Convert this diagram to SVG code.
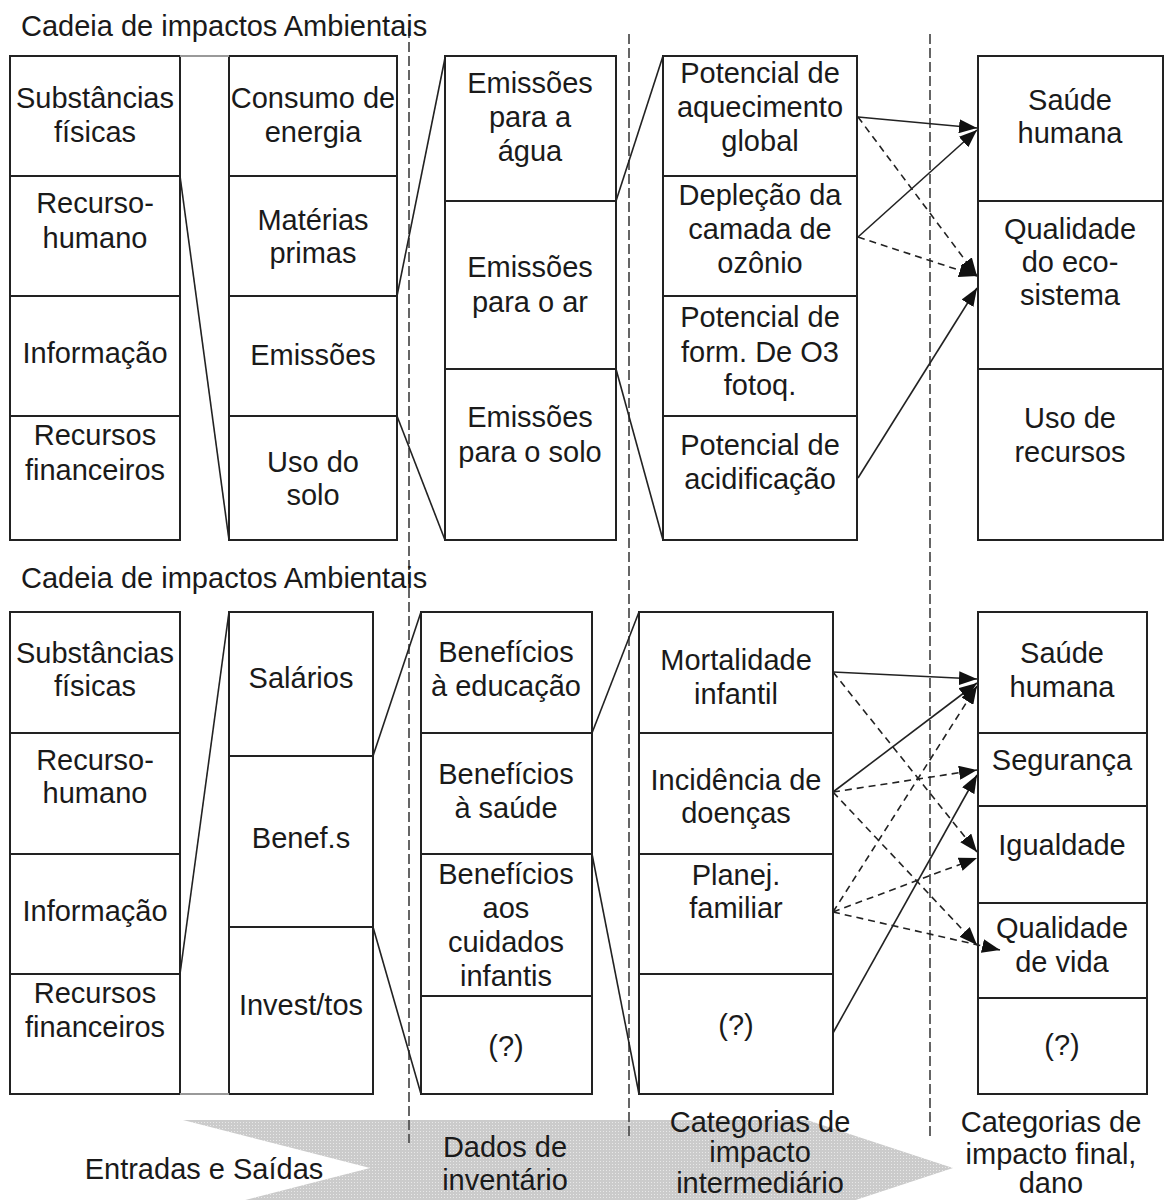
<svg xmlns="http://www.w3.org/2000/svg" width="1166" height="1200" viewBox="0 0 1166 1200">
<defs>
<style>
text{font-family:"Liberation Sans",Arial,sans-serif;font-size:29px;fill:#1a1a1a;text-anchor:middle}
text.l{text-anchor:start}
rect.c{fill:#fff;stroke:#222;stroke-width:2}
.ln{stroke:#222;stroke-width:1.6;fill:none}
.ar{stroke:#222;stroke-width:1.6;fill:none;marker-end:url(#ah)}
.da{stroke:#222;stroke-width:1.6;fill:none;stroke-dasharray:7 5;marker-end:url(#ah)}
.dv{stroke:#555;stroke-width:1.8;fill:none;stroke-dasharray:10 4}
.gr{stroke:#999;stroke-width:2;fill:none}
</style>
<marker id="ah" markerUnits="userSpaceOnUse" markerWidth="18" markerHeight="14" refX="18" refY="7" orient="auto">
<path d="M0,0 L18,7 L0,14 z" fill="#111"/>
</marker>
<pattern id="dots" width="3" height="3" patternUnits="userSpaceOnUse">
<rect width="3" height="3" fill="#cbcbcb"/>
<rect width="1" height="1" fill="#e8e8e8"/>
</pattern>
</defs>

<g id="band">
<polygon points="183,1120 807,1120 953,1168 807,1216 183,1216 370,1168" fill="url(#dots)"/>
</g>

<g id="dividers">
<line class="dv" x1="409" y1="28" x2="409" y2="1143"/>
<line class="dv" x1="629" y1="34" x2="629" y2="1138"/>
<line class="dv" x1="930" y1="34" x2="930" y2="1137"/>
</g>

<g id="titles">
<text class="l" x="21" y="36">Cadeia de impactos Ambientais</text>
<text class="l" x="21" y="588">Cadeia de impactos Ambientais</text>
</g>

<!-- TOP SECTION -->
<g id="t1a"><rect class="c" x="10" y="56" width="170" height="120"/><text x="95" y="108">Substâncias</text><text x="95" y="142">físicas</text></g>
<g id="t1b"><rect class="c" x="10" y="176" width="170" height="120"/><text x="95" y="213">Recurso-</text><text x="95" y="248">humano</text></g>
<g id="t1c"><rect class="c" x="10" y="296" width="170" height="120"/><text x="95" y="363">Informação</text></g>
<g id="t1d"><rect class="c" x="10" y="416" width="170" height="124"/><text x="95" y="445">Recursos</text><text x="95" y="480">financeiros</text></g>

<g id="t2a"><rect class="c" x="229" y="56" width="168" height="120"/><text x="313" y="108">Consumo de</text><text x="313" y="142">energia</text></g>
<g id="t2b"><rect class="c" x="229" y="176" width="168" height="120"/><text x="313" y="230">Matérias</text><text x="313" y="263">primas</text></g>
<g id="t2c"><rect class="c" x="229" y="296" width="168" height="120"/><text x="313" y="365">Emissões</text></g>
<g id="t2d"><rect class="c" x="229" y="416" width="168" height="124"/><text x="313" y="472">Uso do</text><text x="313" y="505">solo</text></g>

<g id="t3a"><rect class="c" x="445" y="56" width="171" height="145"/><text x="530" y="93">Emissões</text><text x="530" y="127">para a</text><text x="530" y="161">água</text></g>
<g id="t3b"><rect class="c" x="445" y="201" width="171" height="168"/><text x="530" y="277">Emissões</text><text x="530" y="312">para o ar</text></g>
<g id="t3c"><rect class="c" x="445" y="369" width="171" height="171"/><text x="530" y="427">Emissões</text><text x="530" y="462">para o solo</text></g>

<g id="t4a"><rect class="c" x="663" y="56" width="194" height="120"/><text x="760" y="83">Potencial de</text><text x="760" y="117">aquecimento</text><text x="760" y="151">global</text></g>
<g id="t4b"><rect class="c" x="663" y="176" width="194" height="120"/><text x="760" y="205">Depleção da</text><text x="760" y="239">camada de</text><text x="760" y="273">ozônio</text></g>
<g id="t4c"><rect class="c" x="663" y="296" width="194" height="120"/><text x="760" y="327">Potencial de</text><text x="760" y="362">form. De O3</text><text x="760" y="395">fotoq.</text></g>
<g id="t4d"><rect class="c" x="663" y="416" width="194" height="124"/><text x="760" y="455">Potencial de</text><text x="760" y="489">acidificação</text></g>

<g id="t5a"><rect class="c" x="978" y="56" width="185" height="145"/><text x="1070" y="110">Saúde</text><text x="1070" y="143">humana</text></g>
<g id="t5b"><rect class="c" x="978" y="201" width="185" height="168"/><text x="1070" y="239">Qualidade</text><text x="1070" y="272">do eco-</text><text x="1070" y="305">sistema</text></g>
<g id="t5c"><rect class="c" x="978" y="369" width="185" height="171"/><text x="1070" y="428">Uso de</text><text x="1070" y="462">recursos</text></g>

<!-- BOTTOM SECTION -->
<g id="b1a"><rect class="c" x="10" y="612" width="170" height="121"/><text x="95" y="663">Substâncias</text><text x="95" y="696">físicas</text></g>
<g id="b1b"><rect class="c" x="10" y="733" width="170" height="121"/><text x="95" y="770">Recurso-</text><text x="95" y="803">humano</text></g>
<g id="b1c"><rect class="c" x="10" y="854" width="170" height="120"/><text x="95" y="921">Informação</text></g>
<g id="b1d"><rect class="c" x="10" y="974" width="170" height="120"/><text x="95" y="1003">Recursos</text><text x="95" y="1037">financeiros</text></g>

<g id="b2a"><rect class="c" x="229" y="612" width="144" height="144"/><text x="301" y="688">Salários</text></g>
<g id="b2b"><rect class="c" x="229" y="756" width="144" height="171"/><text x="301" y="848">Benef.s</text></g>
<g id="b2c"><rect class="c" x="229" y="927" width="144" height="167"/><text x="301" y="1015">Invest/tos</text></g>

<g id="b3a"><rect class="c" x="421" y="612" width="171" height="121"/><text x="506" y="662">Benefícios</text><text x="506" y="696">à educação</text></g>
<g id="b3b"><rect class="c" x="421" y="733" width="171" height="121"/><text x="506" y="784">Benefícios</text><text x="506" y="818">à saúde</text></g>
<g id="b3c"><rect class="c" x="421" y="854" width="171" height="142"/><text x="506" y="884">Benefícios</text><text x="506" y="918">aos</text><text x="506" y="952">cuidados</text><text x="506" y="986">infantis</text></g>
<g id="b3d"><rect class="c" x="421" y="996" width="171" height="98"/><text x="506" y="1056">(?)</text></g>

<g id="b4a"><rect class="c" x="639" y="612" width="194" height="121"/><text x="736" y="670">Mortalidade</text><text x="736" y="704">infantil</text></g>
<g id="b4b"><rect class="c" x="639" y="733" width="194" height="121"/><text x="736" y="790">Incidência de</text><text x="736" y="823">doenças</text></g>
<g id="b4c"><rect class="c" x="639" y="854" width="194" height="120"/><text x="736" y="885">Planej.</text><text x="736" y="918">familiar</text></g>
<g id="b4d"><rect class="c" x="639" y="974" width="194" height="120"/><text x="736" y="1035">(?)</text></g>

<g id="b5a"><rect class="c" x="978" y="612" width="169" height="121"/><text x="1062" y="663">Saúde</text><text x="1062" y="697">humana</text></g>
<g id="b5b"><rect class="c" x="978" y="733" width="169" height="73"/><text x="1062" y="770">Segurança</text></g>
<g id="b5c"><rect class="c" x="978" y="806" width="169" height="97"/><text x="1062" y="855">Igualdade</text></g>
<g id="b5d"><rect class="c" x="978" y="903" width="169" height="95"/><text x="1062" y="938">Qualidade</text><text x="1062" y="972">de vida</text></g>
<g id="b5e"><rect class="c" x="978" y="998" width="169" height="96"/><text x="1062" y="1055">(?)</text></g>

<g id="connectors">
<line class="gr" x1="180" y1="56" x2="229" y2="56"/>
<line class="gr" x1="180" y1="1094" x2="229" y2="1094"/>
<line class="ln" x1="180" y1="176" x2="229" y2="540"/>
<line class="ln" x1="397" y1="296" x2="445" y2="58"/>
<line class="ln" x1="397" y1="416" x2="445" y2="540"/>
<line class="ln" x1="616" y1="201" x2="663" y2="56"/>
<line class="ln" x1="616" y1="369" x2="663" y2="540"/>
<line class="ln" x1="180" y1="974" x2="229" y2="612"/>
<line class="ln" x1="373" y1="756" x2="421" y2="612"/>
<line class="ln" x1="373" y1="927" x2="421" y2="1094"/>
<line class="ln" x1="592" y1="733" x2="639" y2="612"/>
<line class="ln" x1="592" y1="854" x2="639" y2="1094"/>

<line class="ar" x1="858" y1="117" x2="977" y2="128"/>
<line class="da" x1="858" y1="117" x2="977" y2="276"/>
<line class="ar" x1="858" y1="237" x2="977" y2="130"/>
<line class="da" x1="858" y1="237" x2="977" y2="276"/>
<line class="ar" x1="858" y1="478" x2="977" y2="288"/>

<line class="ar" x1="833" y1="672" x2="977" y2="679"/>
<line class="da" x1="833" y1="672" x2="977" y2="852"/>
<line class="ar" x1="833" y1="792" x2="977" y2="683"/>
<line class="da" x1="833" y1="792" x2="977" y2="770"/>
<line class="da" x1="833" y1="792" x2="977" y2="945"/>
<line class="da" x1="833" y1="912" x2="977" y2="686"/>
<line class="da" x1="833" y1="912" x2="977" y2="858"/>
<line class="da" x1="833" y1="912" x2="1000" y2="950"/>
<line class="ar" x1="833" y1="1033" x2="977" y2="775"/>
</g>

<g id="footer">
<text x="204" y="1179">Entradas e Saídas</text>
<text x="505" y="1157">Dados de</text>
<text x="505" y="1190">inventário</text>
<text x="760" y="1132">Categorias de</text>
<text x="760" y="1162">impacto</text>
<text x="760" y="1193">intermediário</text>
<text x="1051" y="1132">Categorias de</text>
<text x="1051" y="1164">impacto final,</text>
<text x="1051" y="1193">dano</text>
</g>
</svg>
